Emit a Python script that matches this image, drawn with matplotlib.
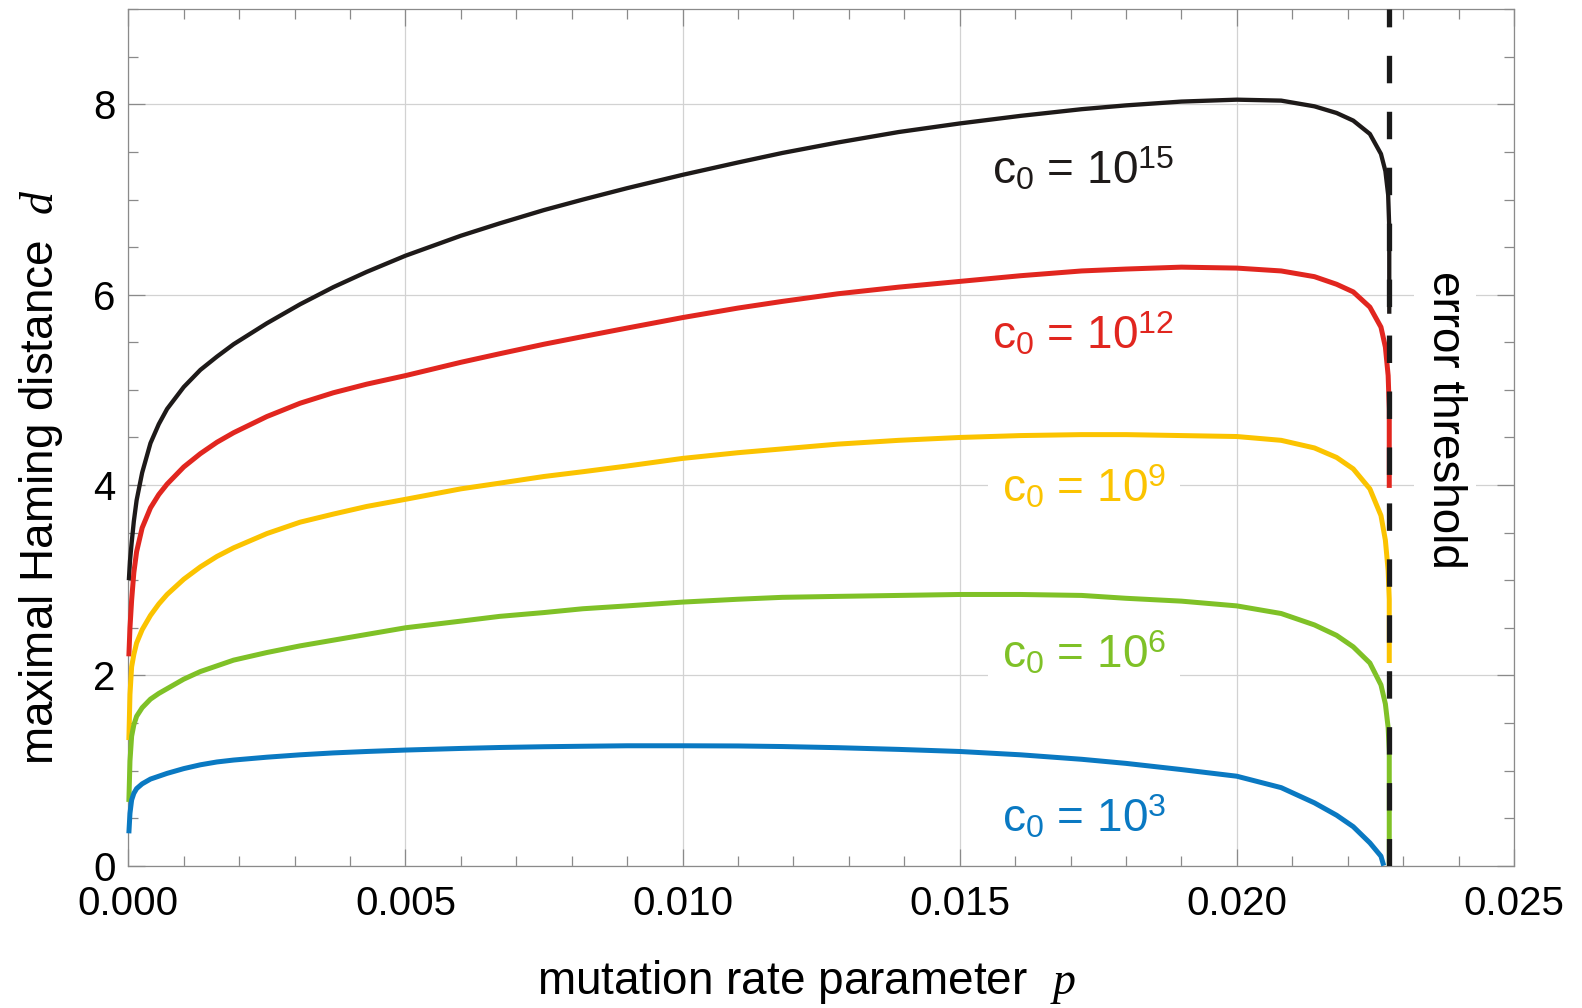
import matplotlib
matplotlib.use("Agg")
import matplotlib.pyplot as plt
from matplotlib.ticker import MultipleLocator, FormatStrFormatter

plt.rcParams["font.family"] = ["Liberation Sans", "DejaVu Sans"]
plt.rcParams["mathtext.fontset"] = "custom"
plt.rcParams["mathtext.rm"] = "Liberation Sans"
plt.rcParams["mathtext.it"] = "Liberation Serif:italic"

# values
p_grid = [0.00001, 0.00003, 0.00006, 0.0001, 0.00015, 0.00025, 0.0004,
          0.00055, 0.0007, 0.001, 0.0013, 0.0016, 0.0019, 0.0025, 0.0031,
          0.0037, 0.0043, 0.005, 0.006, 0.0067, 0.0075, 0.0082, 0.009,
          0.010, 0.011, 0.0118, 0.0128, 0.0139, 0.015, 0.0161, 0.0172,
          0.018, 0.019, 0.020, 0.0208, 0.0214, 0.0218, 0.0221, 0.0224,
          0.0226]

d_c15 = [3.0, 3.2, 3.39, 3.62, 3.84, 4.13, 4.44, 4.64, 4.8, 5.03, 5.21,
         5.35, 5.48, 5.7, 5.9, 6.08, 6.24, 6.41, 6.62, 6.75, 6.89, 7.0,
         7.12, 7.26, 7.39, 7.49, 7.6, 7.71, 7.8, 7.88, 7.95, 7.99, 8.03,
         8.05, 8.04, 7.98, 7.91, 7.83, 7.69, 7.48]
d_c12 = [2.2, 2.5, 2.79, 3.08, 3.3, 3.55, 3.76, 3.9, 4.01, 4.19, 4.33,
         4.45, 4.55, 4.72, 4.86, 4.97, 5.06, 5.15, 5.29, 5.38, 5.48, 5.56,
         5.65, 5.76, 5.86, 5.93, 6.01, 6.08, 6.14, 6.2, 6.25, 6.27, 6.29,
         6.28, 6.25, 6.19, 6.11, 6.03, 5.87, 5.66]
d_c9 = [1.32, 1.8, 2.09, 2.22, 2.34, 2.48, 2.63, 2.75, 2.85, 3.01, 3.14,
        3.25, 3.34, 3.49, 3.61, 3.695, 3.775, 3.85, 3.96, 4.02, 4.09, 4.14,
        4.2, 4.28, 4.34, 4.38, 4.43, 4.47, 4.5, 4.52, 4.53, 4.53, 4.52,
        4.51, 4.47, 4.39, 4.29, 4.17, 3.96, 3.68]
d_c6 = [0.67, 1.1, 1.36, 1.48, 1.57, 1.66, 1.75, 1.81, 1.86, 1.96, 2.04,
        2.1, 2.16, 2.24, 2.31, 2.37, 2.43, 2.5, 2.57, 2.62, 2.66, 2.7,
        2.73, 2.77, 2.8, 2.82, 2.83, 2.84, 2.85, 2.85, 2.84, 2.81, 2.78,
        2.73, 2.65, 2.53, 2.42, 2.3, 2.13, 1.9]
d_c3 = [0.34, 0.55, 0.69, 0.76, 0.81, 0.86, 0.91, 0.94, 0.97, 1.02, 1.06,
        1.09, 1.11, 1.14, 1.165, 1.185, 1.2, 1.215, 1.232, 1.242, 1.25,
        1.255, 1.26, 1.26, 1.258, 1.252, 1.24, 1.222, 1.2, 1.165, 1.118,
        1.075, 1.01, 0.94, 0.82, 0.66, 0.53, 0.41, 0.24, 0.1]

# steep ends at the error threshold
tail_p = {"15": [0.02268, 0.02273, 0.02275, 0.02275],
          "12": [0.02268, 0.02273, 0.02275, 0.02275],
          "9": [0.02268, 0.02273, 0.02275, 0.02275],
          "6": [0.02268, 0.02273, 0.02275, 0.02275],
          "3": [0.02265]}
tail_d = {"15": [7.3, 7.05, 6.7, 5.8],
          "12": [5.45, 5.15, 4.8, 3.97],
          "9": [3.42, 3.1, 2.8, 2.13],
          "6": [1.7, 1.45, 1.2, 0.0],
          "3": [0.0]}

p_threshold = 0.02275

series = [("15", d_c15, "#1e1a19", 3.1), ("12", d_c12, "#e1261f", 3.6),
          ("9", d_c9, "#fbc300", 3.6), ("6", d_c6, "#7fc127", 3.6),
          ("3", d_c3, "#0a79c2", 3.6)]
label_pos = {"15": (0.01558, 7.17), "12": (0.01558, 5.435),
             "9": (0.01576, 3.82), "6": (0.01576, 2.084), "3": (0.01576, 0.357)}

fig = plt.figure(figsize=(15.82, 10.08), dpi=100)
ax = fig.add_axes([0.0811, 0.1412, 0.8759, 0.8496])

for key, d, color, lw in series:
    ax.plot(p_grid + tail_p[key], d + tail_d[key], color=color, lw=lw,
            solid_joinstyle="round", solid_capstyle="butt", zorder=4,
            clip_on=False)
    x, y = label_pos[key]
    ax.text(x, y, "c$_0$ = 10$^{%s}$" % key, color=color, fontsize=33,
            ha="left", va="baseline", zorder=3,
            bbox=dict(facecolor="white", edgecolor="none",
                      boxstyle="square,pad=0.3"))

ax.axvline(p_threshold, color="#1a1a1a", lw=3.8, dashes=(5.2, 5.4),
           dash_capstyle="butt", zorder=5)
ax.text(0.02376, 4.68, "error threshold", rotation=-90, fontsize=33,
        ha="center", va="center", zorder=3,
        bbox=dict(facecolor="white", edgecolor="none",
                  boxstyle="square,pad=0.2"))

ax.set_xlim(0, 0.025)
ax.set_ylim(0, 9)
ax.xaxis.set_major_locator(MultipleLocator(0.005))
ax.xaxis.set_minor_locator(MultipleLocator(0.001))
ax.xaxis.set_major_formatter(FormatStrFormatter("%.3f"))
ax.yaxis.set_major_locator(MultipleLocator(2))
ax.yaxis.set_minor_locator(MultipleLocator(0.5))
ax.set_axisbelow(True)
ax.grid(True, which="major", color="#d2d2d2", lw=0.9)

ax.tick_params(which="both", direction="in", top=True, right=True,
               color="#8a8a8a", width=0.9, labelsize=29)
ax.tick_params(which="major", length=12)
ax.tick_params(which="minor", length=7)
ax.tick_params(axis="x", pad=14)
ax.tick_params(axis="y", pad=9)
for spine in ax.spines.values():
    spine.set_color("#8a8a8a")
    spine.set_linewidth(0.9)

fig.text(806 / 1582, 1 - 994 / 1008, "mutation rate parameter  $p$",
         fontsize=33, ha="center", va="baseline")
fig.text(41.5 / 1582, 1 - 477 / 1008, "maximal Haming distance  $d$",
         fontsize=33, rotation=90, ha="center", va="center")

fig.savefig("out.png", dpi=100)
